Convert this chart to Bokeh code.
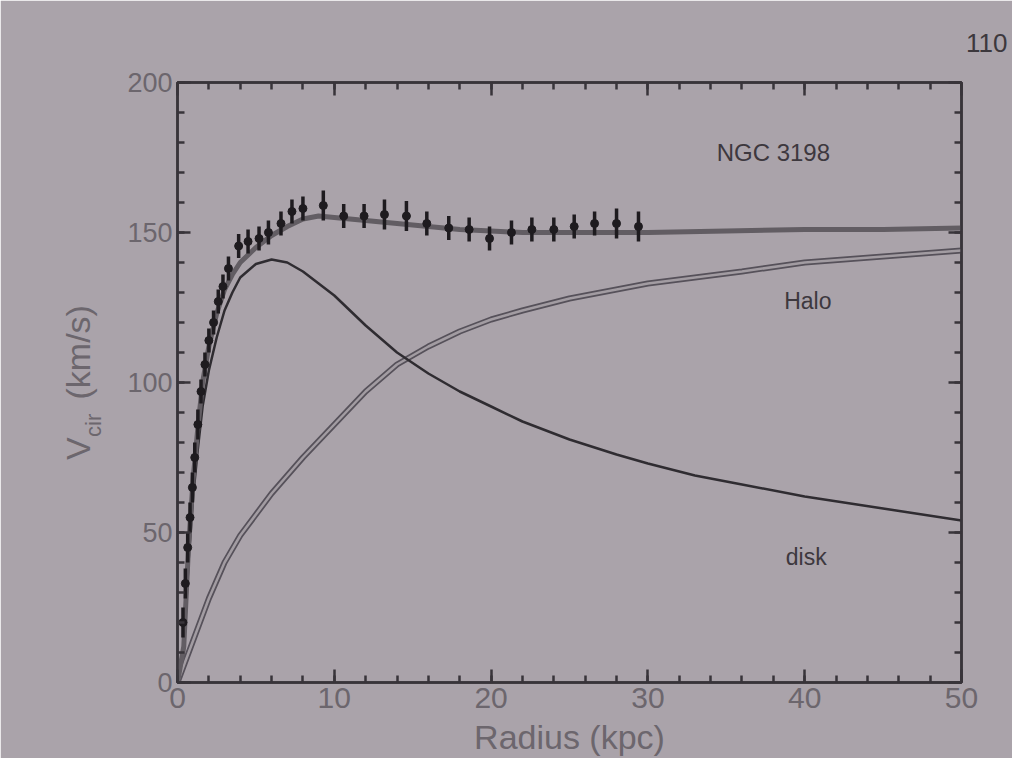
from bokeh.plotting import figure
from bokeh.models import Range1d, FixedTicker, LinearAxis, Label, Title
from bokeh.embed import file_html
from bokeh.resources import INLINE

# ---- data ----
obs_radius = [0.35, 0.5, 0.65, 0.8, 0.95, 1.1, 1.3, 1.5, 1.75, 2.0, 2.3, 2.6, 2.9, 3.25,
              3.9, 4.5, 5.2, 5.8, 6.6, 7.3, 8.0, 9.3, 10.6, 11.9, 13.2, 14.6, 15.9,
              17.3, 18.6, 19.9, 21.3, 22.6, 24.0, 25.3, 26.6, 28.0, 29.4]
obs_vel = [20, 33, 45, 55, 65, 75, 86, 97, 106, 114, 120, 127, 132, 138,
           145.5, 147, 148, 150, 153, 157, 158, 159, 155.5, 155.5, 156, 155.5, 153,
           151.5, 151, 148, 150, 151, 151, 152, 153, 153, 152]
obs_err = [5, 5, 5, 5, 5, 5, 5, 4, 4, 4, 4, 4, 4, 4,
           4, 4, 4, 4, 4, 4, 4, 5, 4, 4, 5, 5, 4,
           4, 4, 4, 4, 4, 4, 4, 4, 5, 5]

total_radius = [0, 0.4, 0.7, 1.0, 1.3, 1.6, 2.0, 2.5, 3.0, 3.5, 4.0, 5.0, 6.0, 7.0, 8.0, 9.0,
                10, 12, 14, 16, 18, 20, 22, 25, 28, 30, 35, 40, 45, 50]
total_vel = [0, 12, 45, 68, 85, 100, 112, 123, 131, 136, 140, 145, 149, 152, 154.5, 155.5,
             155, 154, 153, 152, 151, 150.5, 150, 150, 150, 150, 150.5, 151, 151, 151.5]

disk_radius = [0, 0.4, 0.7, 1.0, 1.3, 1.6, 2.0, 2.5, 3.0, 3.5, 4.0, 5.0, 6.0, 7.0, 8.0, 9.0,
               10, 12, 14, 16, 18, 20, 22, 25, 28, 30, 33, 36, 40, 45, 50]
disk_vel = [0, 10, 40, 62, 78, 92, 104, 115, 124, 130, 135, 139.5, 141, 140, 137, 133,
            129, 119, 110, 103, 97, 92, 87, 81, 76, 73, 69, 66, 62, 58, 54]

halo_radius = [0, 1, 2, 3, 4, 5, 6, 8, 10, 12, 14, 16, 18, 20, 22, 25, 28, 30, 33, 36, 40, 45, 50]
halo_vel = [0, 14, 28, 40, 49, 56, 63, 75, 86, 97, 106, 112, 117, 121, 124, 128, 131, 133,
            135, 137, 140, 142, 144]

x_ticks = [0, 10, 20, 30, 40, 50]
x_minor = list(range(0, 51, 2))
y_ticks = [0, 50, 100, 150, 200]
y_minor = list(range(0, 201, 10))

BG = "#aaa3aa"
DARK = "#38343a"
TICKTXT = "#6c666d"
FONT = "Liberation Sans"
NB = "\u00a0"

p = figure(width=1012, height=758, output_backend="svg", toolbar_location=None,
           x_range=Range1d(0, 50), y_range=Range1d(0, 200),
           min_border_left=177, min_border_right=51, min_border_top=82, min_border_bottom=76)
p.background_fill_color = BG
p.border_fill_color = BG
p.outline_line_color = DARK
p.outline_line_width = 2.5
p.grid.visible = False

xt = FixedTicker(ticks=x_ticks, minor_ticks=x_minor)
yt = FixedTicker(ticks=y_ticks, minor_ticks=y_minor)


def style(ax, labels=True, font_size="28px"):
    ax.axis_line_color = DARK
    ax.axis_line_width = 2.5
    ax.major_tick_line_color = DARK
    ax.minor_tick_line_color = DARK
    ax.major_tick_line_width = 2.5
    ax.minor_tick_line_width = 2.5
    ax.major_tick_in = 13
    ax.major_tick_out = 0
    ax.minor_tick_in = 7
    ax.minor_tick_out = 0
    ax.major_label_text_font = FONT
    ax.major_label_text_font_size = font_size
    ax.major_label_text_color = TICKTXT if labels else None
    ax.major_label_standoff = 5
    ax.axis_label_text_font = FONT
    ax.axis_label_text_font_style = "normal"
    ax.axis_label_text_color = TICKTXT


p.xaxis.ticker = xt
p.yaxis.ticker = yt
style(p.xaxis[0], True, "30px")
style(p.yaxis[0], True, "27px")

# x-axis title
p.xaxis.axis_label = "Radius (kpc)"
p.xaxis.axis_label_text_font_size = "34px"
p.xaxis.axis_label_standoff = 7

# y-axis title: subscript "cir" as the axis label (inner column), "V ... (km/s)" as outer title
p.yaxis.axis_label = "cir" + NB * 14
p.yaxis.axis_label_text_font_size = "22px"
p.yaxis.axis_label_standoff = 18

ytitle = Title(text="V" + NB * 4 + "(km/s)", align="center", offset=-24, standoff=-37,
               text_font=FONT, text_font_size="34px", text_font_style="normal",
               text_color=TICKTXT)
p.add_layout(ytitle, "left")

top = LinearAxis(ticker=FixedTicker(ticks=x_ticks, minor_ticks=x_minor))
style(top, False, "10px")
p.add_layout(top, "above")
right = LinearAxis(ticker=FixedTicker(ticks=y_ticks, minor_ticks=y_minor))
style(right, False, "10px")
p.add_layout(right, "right")

# page number fragment at the top right
page_no = Title(text="110", align="right", offset=-46, standoff=62,
                text_font=FONT, text_font_size="26px", text_font_style="normal",
                text_color="#3c383d")
p.add_layout(page_no, "above")

# curves
p.line(halo_radius, halo_vel, line_color="#56515a", line_width=6)
p.line(halo_radius, halo_vel, line_color="#a29ca2", line_width=2.5)
p.line(disk_radius, disk_vel, line_color="#2f2c31", line_width=2.5)
p.line(total_radius, total_vel, line_color="#625d63", line_width=5)

# observations with error bars
lo = [v - e for v, e in zip(obs_vel, obs_err)]
hi = [v + e for v, e in zip(obs_vel, obs_err)]
p.segment(obs_radius, lo, obs_radius, hi, line_color="#1e1b1f", line_width=3.5)
p.scatter(obs_radius, obs_vel, size=8, fill_color="#1e1b1f", line_color="#1e1b1f")

# annotations
for txt, x, y, fs in [("NGC 3198", 38.0, 176.7, "24px"), ("Halo", 40.2, 127.3, "23px"),
                      ("disk", 40.1, 41.7, "23px")]:
    p.add_layout(Label(x=x, y=y, text=txt, text_font=FONT, text_font_size=fs,
                       text_color="#3d383e", text_align="center", text_baseline="middle"))

open("out.html", "w").write(file_html(p, INLINE))
